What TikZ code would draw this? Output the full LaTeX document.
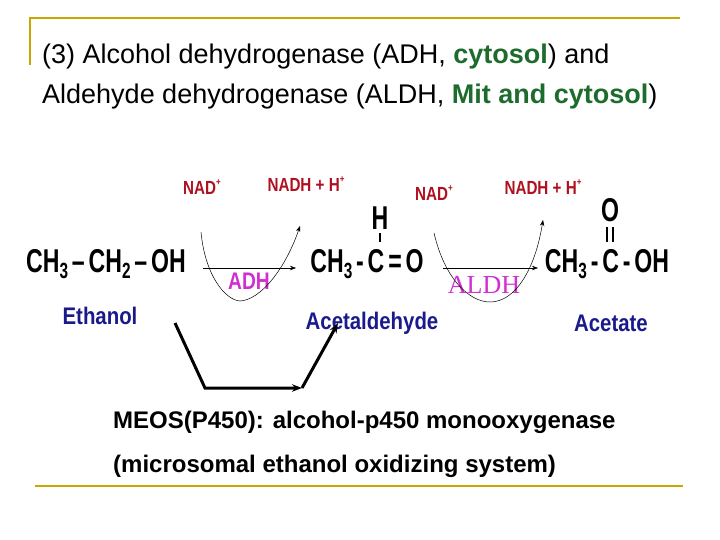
\documentclass[tikz,border=0pt]{standalone}
\usepackage{fontspec}
\setmainfont{Liberation Sans}
\usetikzlibrary{arrows.meta}
\definecolor{frame}{HTML}{C8A800}
\definecolor{dg}{HTML}{1E6B2E}
\definecolor{nadred}{HTML}{B01020}
\definecolor{navy}{HTML}{1A1A8C}
\definecolor{mag}{HTML}{D030D0}
\newcommand{\chem}[1]{\scalebox{0.7}[1]{\bfseries #1}}
\newcommand{\sbs}[1]{\raisebox{-0.3ex}{\fontsize{22}{24}\selectfont #1}}
\newcommand{\sps}[1]{\raisebox{0.9ex}{\fontsize{10}{12}\selectfont #1}}
\begin{document}
\begin{tikzpicture}[x=1pt,y=-1pt,
  title/.style={font=\fontsize{27}{31}\selectfont,anchor=west,inner sep=0},
  mol/.style={font=\fontsize{33}{36}\selectfont,inner sep=0},
  cof/.style={font=\fontsize{19}{22}\selectfont\bfseries,text=nadred,inner sep=0},
  molname/.style={font=\fontsize{24}{27}\selectfont\bfseries,text=navy,inner sep=0},
  thinarr/.style={-{Stealth[length=6pt]},line width=0.5pt},
  meos/.style={font=\fontsize{24}{27}\selectfont\bfseries,anchor=west,inner sep=0}]
\useasboundingbox (0,0) rectangle (720,540);
\draw[frame,line width=2pt] (30,65) -- (30,18) -- (680,18);
\draw[frame,line width=2pt] (35,486) -- (683,486);
\node[title] (t1) at (42,57) {(3) Alcohol dehydrogenase (ADH, \textcolor{dg}{\bfseries cytosol}) and};
\node[title] (t2) at (42,97) {Aldehyde dehydrogenase (ALDH, \textcolor{dg}{\bfseries Mit and cytosol})};
\node[mol] (eth) at (106,264) {\chem{CH\sbs{3}\,--\,CH\sbs{2}\,--\,OH}};
\node[mol] (ald) at (367,264) {\chem{CH\sbs{3}\,-\,C\,=\,O}};
\node[mol] (ac) at (607,264) {\chem{CH\sbs{3}\,-\,C\,-\,OH}};
\node[mol] (h) at (380,218) {\chem{H}};
\node[mol] (o) at (610,210) {\chem{O}};
\draw[line width=1.5pt] (380,233) -- (380,242);
\draw[line width=1.5pt] (607,227) -- (607,242) (613,227) -- (613,242);
\coordinate (a1s) at (203,268); \coordinate (a1e) at (296,268);
\coordinate (a2s) at (443,268); \coordinate (a2e) at (538,268);
\draw[thinarr] (a1s) -- (a1e);
\draw[thinarr] (a2s) -- (a2e);
\node[font=\fontsize{24}{26}\selectfont\bfseries,text=mag] (adh) at (249,281) {\scalebox{0.8}[1]{ADH}};
\node[font=\fontsize{26}{28}\selectfont,text=mag] (aldh) at (484,285) {\setmainfont{Liberation Serif}ALDH};
\node[cof] (n1) at (202,187) {\scalebox{0.8}[1]{NAD\sps{+}}};
\node[cof] (h1) at (306,184) {\scalebox{0.8}[1]{NADH + H\sps{+}}};
\node[cof] (n2) at (434,193) {\scalebox{0.8}[1]{NAD\sps{+}}};
\node[cof] (h2) at (543,187) {\scalebox{0.8}[1]{NADH + H\sps{+}}};
\draw[thinarr] (201,232) .. controls (205,275) and (225,300) .. (240,301) .. controls (260,300) and (285,270) .. (300,226);
\draw[thinarr] (434,233) .. controls (445,280) and (470,302) .. (490,302) .. controls (515,302) and (535,270) .. (543,220);
\node[molname] (e) at (100,316) {\scalebox{0.85}[1]{Ethanol}};
\node[molname] (a) at (372,323) {\scalebox{0.85}[1]{Acetaldehyde}};
\node[molname] (c) at (611,323) {\scalebox{0.85}[1]{Acetate}};
\coordinate (m1) at (175,323); \coordinate (m2) at (205,388); \coordinate (m3) at (302,388); \coordinate (m4) at (338,323);
\draw[line width=3pt,-{Stealth[length=10pt]}] (m1) -- (m2) -- (m3);
\draw[line width=3pt,-{Stealth[length=10pt]}] (m3) -- (m4);
\node[meos] (me1) at (113,422) {MEOS(P450): alcohol-p450 monooxygenase};
\node[meos] (me2) at (113,466) {(microsomal ethanol oxidizing system)};
\end{tikzpicture}
\end{document}
